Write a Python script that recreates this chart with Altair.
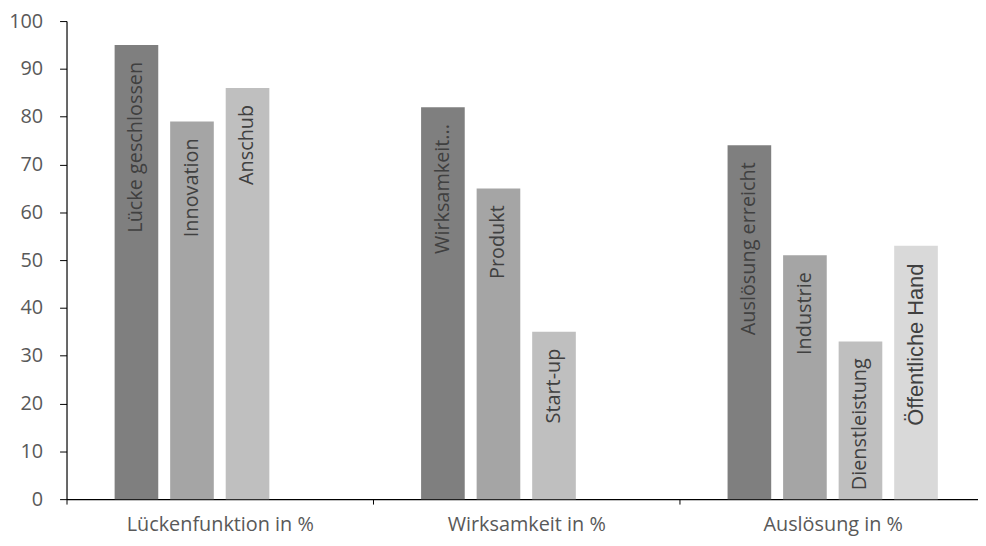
import altair as alt
import pandas as pd

groups = ["Lückenfunktion in %"] * 3 + ["Wirksamkeit in %"] * 3 + ["Auslösung in %"] * 4
labels = ["Lücke geschlossen", "Innovation", "Anschub",
          "Wirksamkeit...", "Produkt", "Start-up",
          "Auslösung erreicht", "Industrie", "Dienstleistung", "Öffentliche Hand"]
values = [95, 79, 86, 82, 65, 35, 74, 51, 33, 53]
slots = [0, 1, 2, 0, 1, 2, 0, 1, 2, 3]
group_order = ["Lückenfunktion in %", "Wirksamkeit in %", "Auslösung in %"]
slot_colors = ["#7f7f7f", "#a5a5a5", "#bfbfbf", "#d9d9d9"]

df = pd.DataFrame({"group": groups, "label": labels, "value": values, "slot": slots})

x_enc = alt.X("group:N", sort=group_order,
              scale=alt.Scale(range=[0, 927], paddingInner=0, paddingOuter=0),
              axis=alt.Axis(title=None, labelAngle=0, tickBand="extent", labelLimit=400,
                            labelFont="Open Sans", labelFontSize=20, labelColor="#595959",
                            domainColor="#000000", tickColor="#000000", tickSize=5,
                            labelPadding=11, domainWidth=1.2))
xo_enc = alt.XOffset("slot:O", scale=alt.Scale(paddingInner=0.2143, paddingOuter=0.866))
y_enc = alt.Y("value:Q", scale=alt.Scale(domain=[0, 100]),
              axis=alt.Axis(title=None, values=list(range(0, 101, 10)), grid=False,
                            labelFont="Open Sans", labelFontSize=20, labelColor="#595959",
                            domainColor="#000000", tickColor="#000000", tickSize=7,
                            labelPadding=17, domainWidth=1.2))

base = alt.Chart(df)

bars = base.mark_bar().encode(
    x=x_enc, xOffset=xo_enc, y=y_enc,
    color=alt.Color("slot:O", scale=alt.Scale(domain=[0, 1, 2, 3], range=slot_colors), legend=None),
)

texts = base.transform_filter(alt.datum.label != "Öffentliche Hand").mark_text(
    angle=270, align="right", baseline="middle", dx=-17,
    font="Open Sans", fontSize=20, color="#404040",
).encode(x=x_enc, xOffset=xo_enc, y=y_enc, text="label:N")

texts2 = base.transform_filter(alt.datum.label == "Öffentliche Hand").mark_text(
    angle=270, align="right", baseline="middle", dx=-18,
    font="Liberation Sans", fontSize=22, color="#404040",
).encode(x=x_enc, xOffset=xo_enc, y=y_enc, text="label:N")

chart = alt.layer(bars, texts, texts2).properties(
    width=919, height=482,
    autosize="none",
    padding={"left": 59, "top": 11, "right": 0, "bottom": 37},
).configure_view(strokeWidth=0)

chart.save("out.html", embed_options={"renderer": "svg", "actions": False})
